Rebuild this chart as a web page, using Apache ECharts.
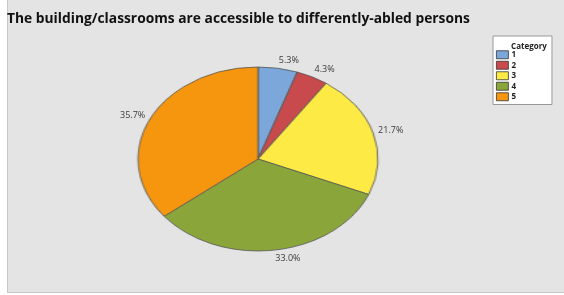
<!DOCTYPE html>
<html>
<head>
<meta charset="utf-8">
<script src="https://cdn.jsdelivr.net/npm/echarts@6/dist/echarts.min.js"></script>
<style>
  html, body { margin: 0; padding: 0; background: #fff; }
  .wrap { position: relative; width: 564px; height: 295px; overflow: hidden; }
  .bg { position: absolute; left: 7px; top: 0; width: 556px; height: 292px; background: #e4e4e4;
        border-left: 1px solid #c9c9c9; border-bottom: 1px solid #c9c9c9; }
  .layer { position: absolute; left: 0; top: 0; width: 564px; height: 295px; }
  #pie { transform-origin: 258px 159px; transform: scaleX(1.304); }
</style>
</head>
<body>
<div class="wrap">
  <div class="bg"></div>
  <div class="layer" id="pie"></div>
  <div class="layer" id="main"></div>
</div>
<script>
var categories = ['1', '2', '3', '4', '5'];
var percents = [5.3, 4.3, 21.7, 33.0, 35.7];
var colors = ['#7ba7da', '#c94a4c', '#feea45', '#8aa63b', '#f6960e'];

var cx = 258, cy = 159, radius = 92, stretch = 1.304;

var pieData = categories.map(function (c, i) {
  return { name: c, value: percents[i] };
});

// the pie itself, squeezed into an ellipse by the css transform
var pieChart = echarts.init(document.getElementById('pie'));
pieChart.setOption({
  animation: false,
  color: colors,
  series: [{
    type: 'pie',
    center: [cx, cy],
    radius: radius,
    startAngle: 90,
    clockwise: true,
    label: { show: false },
    labelLine: { show: false },
    itemStyle: { borderColor: '#555', borderWidth: 0.8 },
    data: pieData
  }]
});

// title, legend and labels (not stretched)
var myChart = echarts.init(document.getElementById('main'));
myChart.setOption({
  animation: false,
  color: colors,
  title: [{
    text: 'The building/classrooms are accessible to differently-abled persons',
    left: 7,
    top: 12,
    padding: 0,
    textStyle: { fontFamily: 'Open Sans', fontWeight: 'bold', fontSize: 13.8, color: '#111' }
  }, {
    text: 'Category',
    left: 524,
    top: 38,
    textAlign: 'center',
    textStyle: { fontFamily: 'Open Sans', fontWeight: 'bold', fontSize: 8, color: '#222' }
  }],
  legend: {
    orient: 'vertical',
    left: 493,
    top: 36,
    padding: [14, 36, 3, 3],
    backgroundColor: '#fff',
    borderColor: '#999',
    borderWidth: 1,
    itemWidth: 12,
    itemHeight: 8,
    itemGap: 1,
    icon: 'rect',
    itemStyle: { borderColor: '#333', borderWidth: 0.8 },
    textStyle: { fontFamily: 'Open Sans', fontWeight: 'bold', fontSize: 8, color: '#222', lineHeight: 9.5, padding: [0, 0, 0, -2] },
    data: categories.map(function (c, i) {
      return { name: c, itemStyle: { color: colors[i] } };
    })
  },
  series: [{
    type: 'pie',
    center: [cx, cy],
    radius: radius,
    startAngle: 90,
    clockwise: true,
    silent: true,
    avoidLabelOverlap: false,
    itemStyle: { color: 'rgba(0,0,0,0)' },
    label: {
      show: true,
      position: 'outside',
      distanceToLabelLine: 0,
      formatter: function (p) { return p.value.toFixed(1) + '%'; },
      fontFamily: 'Open Sans',
      fontSize: 9,
      color: '#3a3a3a'
    },
    labelLine: { show: false, length: 4, length2: 0 },
    labelLayout: function (p) {
      var r = p.labelRect;
      var right = r.x + r.width / 2 >= cx;
      var ax = right ? r.x : r.x + r.width;
      var yc = r.y + r.height / 2;
      return {
        x: cx + (ax - cx) * stretch,
        y: yc + (yc - cy) / (radius + 4) * 4,
        align: right ? 'left' : 'right',
        verticalAlign: 'middle'
      };
    },
    data: pieData
  }]
});
</script>
</body>
</html>
